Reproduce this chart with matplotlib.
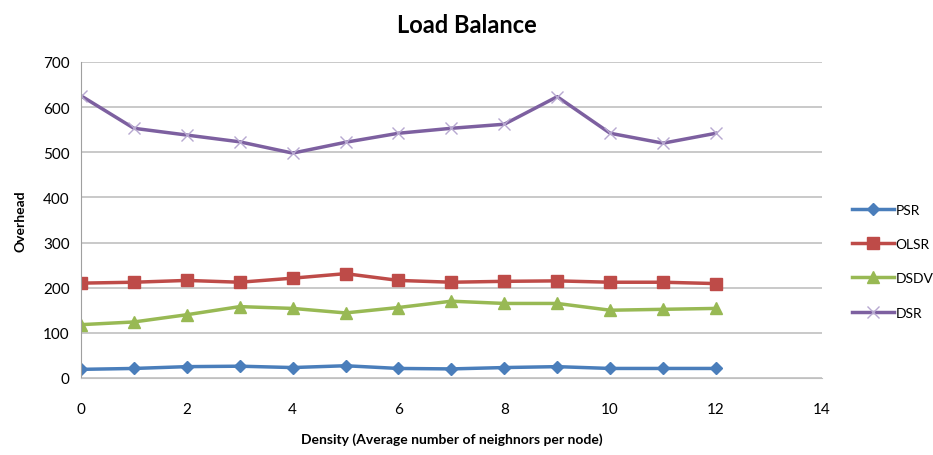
import matplotlib.pyplot as plt

plt.rcParams['font.family'] = ['Lato', 'DejaVu Sans']

# Load balance overhead vs node density
density = list(range(13))
psr = [19, 21, 25, 26, 23, 27, 21, 20, 23, 25, 21, 21, 21]
olsr = [210, 212, 216, 212, 221, 231, 216, 212, 214, 215, 212, 212, 209]
dsdv = [118, 124, 140, 158, 154, 144, 156, 170, 165, 165, 150, 152, 154]
dsr = [625, 553, 538, 523, 498, 522, 542, 553, 562, 623, 542, 520, 542]

fig = plt.figure(figsize=(9.33, 4.56), dpi=100)
ax = fig.add_axes([0.0868, 0.169, 0.794, 0.693])

ax.plot(density, psr, color='#4A7EBB', lw=2.5, marker='D', ms=6, label='PSR')
ax.plot(density, olsr, color='#BE4B48', lw=2.5, marker='s', ms=8, label='OLSR')
ax.plot(density, dsdv, color='#98B954', lw=2.5, marker='^', ms=8, label='DSDV')
ax.plot(density, dsr, color='#7D60A0', lw=2.5, marker='x', ms=9, mew=1,
        mec='#B7A8D0', label='DSR')

ax.set_xlim(0, 14)
ax.set_ylim(0, 700)
ax.set_xticks(range(0, 15, 2))
ax.set_yticks(range(0, 701, 100))
ax.yaxis.grid(True, color='#C0C0C0', lw=1.2)
ax.set_axisbelow(True)
for s in ['top', 'right']:
    ax.spines[s].set_visible(False)
ax.spines['left'].set_color('#A0A0A0')
ax.spines['bottom'].set_color('#C0C0C0')
ax.tick_params(axis='both', labelsize=11, length=0, pad=8)
ax.tick_params(axis='x', pad=17)

ax.set_xlabel('Density (Average number of neighnors per node)', fontsize=10,
              fontweight='bold', labelpad=12)
ax.set_ylabel('Overhead', fontsize=10, fontweight='bold', labelpad=12)
fig.suptitle('Load Balance', fontsize=17, fontweight='bold', y=0.97)

fig.legend(loc='center left', bbox_to_anchor=(0.9, 0.425), frameon=False,
           fontsize=10, labelspacing=1.6, handlelength=3.0, handletextpad=0.1)

fig.savefig('out.png', dpi=100)
